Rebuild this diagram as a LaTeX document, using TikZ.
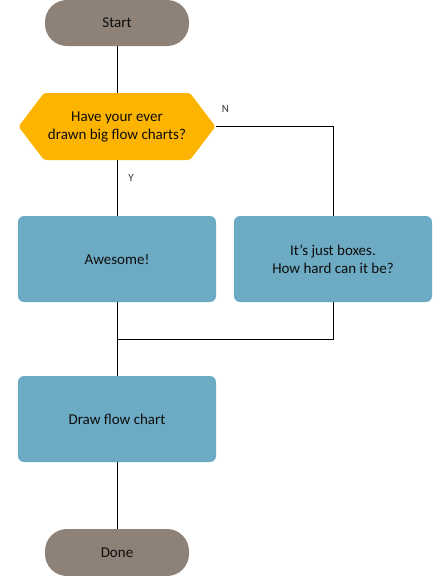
\documentclass[tikz,border=0pt]{standalone}
\usepackage{fontspec}
\setmainfont{Carlito}
\usetikzlibrary{calc,positioning,backgrounds}
\definecolor{pillgray}{HTML}{8E8178}
\definecolor{askyellow}{HTML}{FDB400}
\definecolor{boxblue}{HTML}{6DABC4}
\definecolor{inkblack}{HTML}{0D0D0D}
\begin{document}
\begin{tikzpicture}[x=1pt,y=-1pt,every node/.style={outer sep=0pt},
		txt/.style={font=\fontsize{15}{18}\selectfont,text=inkblack,align=center},
		terminal/.style={txt,fill=pillgray,rounded corners=22pt,minimum width=144pt,minimum height=46pt},
		process/.style={txt,fill=boxblue,rounded corners=6pt,minimum width=198pt,minimum height=86pt},
		decision/.style={fill=askyellow,rounded corners=2pt},
		flowline/.style={draw=black,line width=0.9pt},
		tag/.style={font=\fontsize{11}{12}\selectfont,text=black!80}
		]
		\useasboundingbox (0,0) rectangle (432,576);
		
		\node[terminal] (start) at (117,23) {Start};
		\node[txt,minimum width=146pt,minimum height=67pt] (ask) at (117,126.5) {Have your ever\\drawn big flow charts?};
		\coordinate (askE) at ($(ask.east)+(25.5,0)$);
		\coordinate (askW) at ($(ask.west)+(-25.5,0)$);
		\begin{scope}[on background layer]
			\path[decision] (ask.north west) -- (ask.north east) -- (askE) -- (ask.south east) -- (ask.south west) -- (askW) -- cycle;
		\end{scope}
		\node[process] (yes) at (117,259) {Awesome!};
		\node[process] (no) at (333,259) {It’s just boxes.\\How hard can it be?};
		\node[process] (draw) at (117,419) {Draw flow chart};
		\node[terminal,minimum height=47pt] (done) at (117,552.5) {Done};
		\coordinate (join) at ($(yes.south)!0.5!(draw.north)$);
		
		% connectors
		\draw[flowline] (start) -- (ask);
		\draw[flowline] (ask) -- node[tag,pos=0.32,right=8pt]{Y} (yes);
		\draw[flowline] (askE) node[tag,above right=11pt and 3pt]{N} -| (no.north);
		\draw[flowline] (yes) -- (draw);
		\draw[flowline] (no.south) |- (join);
		\draw[flowline] (draw) -- (done);
	\end{tikzpicture}
\end{document}
